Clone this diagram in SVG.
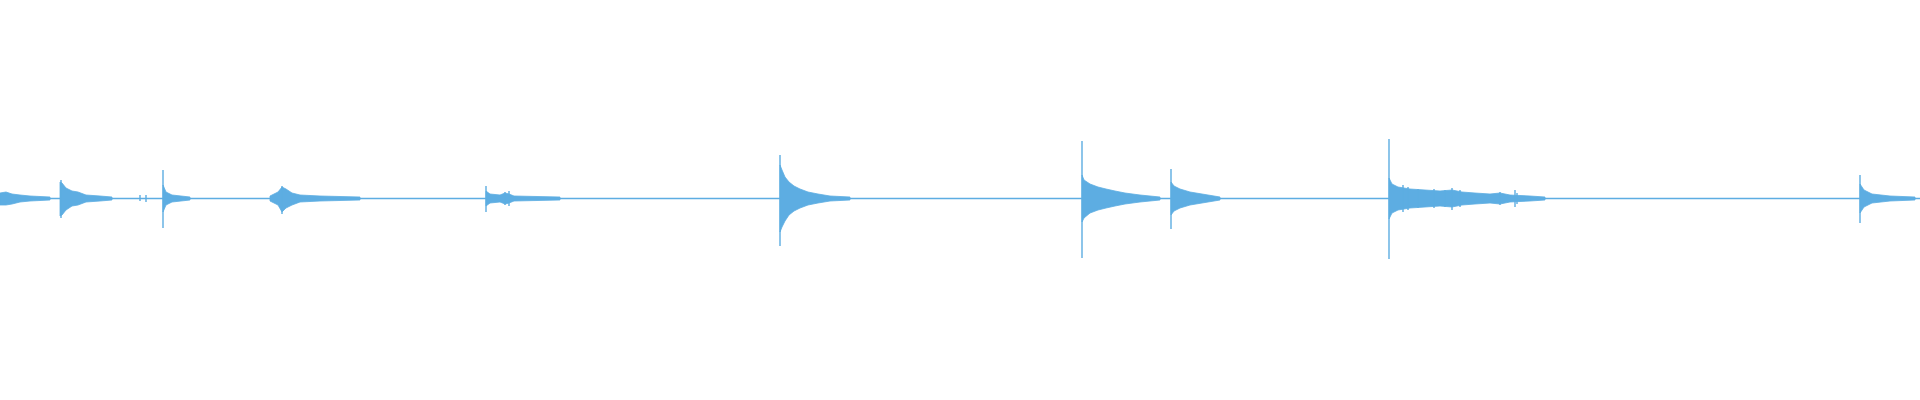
<svg xmlns="http://www.w3.org/2000/svg" width="1920" height="400" viewBox="0 0 1920 400">
<style>.w{fill:none;stroke:#5dade2;stroke-width:1.4}.e{fill:#5dade2;stroke:#5dade2;stroke-width:0.8;stroke-linejoin:round}</style>
<rect width="1920" height="400" fill="#fff"/>
<g id="waveform">
<line class="w" x1="0" y1="198.5" x2="1920" y2="198.5" stroke-width="1.2"/>
<path class="e" d="M0 193L6 192L12 194L20 195L30 196L50 197L50 200L30 201L20 202L12 204L6 205L0 205Z"/>
<path class="e" d="M60 182L62 183L66 188L72 191L78 192L86 195L100 196L112 197L112 200L100 201L86 202L78 205L72 206L66 210L62 215L60 216Z"/>
<path class="e" d="M163 185L166 192L172 195L190 197L190 200L172 202L166 205L163 212Z"/>
<path class="e" d="M270 196L278 192L282 187L286 189L292 193L300 195L320 196L360 197L360 200L320 201L300 202L292 205L286 208L282 212L278 205L270 201Z"/>
<path class="e" d="M486 191L490 194L500 195L505 193L509 194L514 196L560 197L560 200L514 201L509 203L505 204L500 202L490 203L486 206Z"/>
<path class="e" d="M780 165L782 170L785 177L789 182L794 186L800 189L808 192L818 194L830 196L850 197L850 200L830 201L818 203L808 205L800 208L794 211L789 215L785 221L782 227L780 232Z"/>
<path class="e" d="M1082 175L1084 180L1090 184L1098 187L1106 189L1115 191L1125 193L1140 195L1160 197L1160 200L1140 202L1125 204L1115 206L1106 208L1098 210L1090 213L1084 218L1082 222Z"/>
<path class="e" d="M1171 182L1174 186L1180 189L1190 192L1202 194L1220 197L1220 200L1202 203L1190 205L1180 208L1174 211L1171 215Z"/>
<path class="e" d="M1389 178L1392 184L1398 187L1410 189L1425 190L1440 191L1452 190L1462 192L1475 193L1490 194L1500 193L1510 195L1530 196L1545 197L1545 200L1530 201L1510 202L1500 204L1490 203L1475 204L1462 205L1452 207L1440 206L1425 207L1410 208L1398 210L1392 213L1389 219Z"/>
<path class="e" d="M1860 184L1864 190L1872 194L1890 196L1915 197L1915 200L1890 201L1872 203L1864 207L1860 213Z"/>
<path class="w" d="M61 180V218M163 170V228M282 186V214M486 186V212M780 155V246M1082 141V258M1171 169V229M1389 139V259M1860 175V223
M1452 188V210M1460 190V207M1445 190V207M1500 192V205M1515 190V207M1517 193V204M1408 187V210M1403 185V212M1418 189V208M1434 189V208M140 195V201M146 195V202M505 192V205M509 191V206"/>
</g>
</svg>
